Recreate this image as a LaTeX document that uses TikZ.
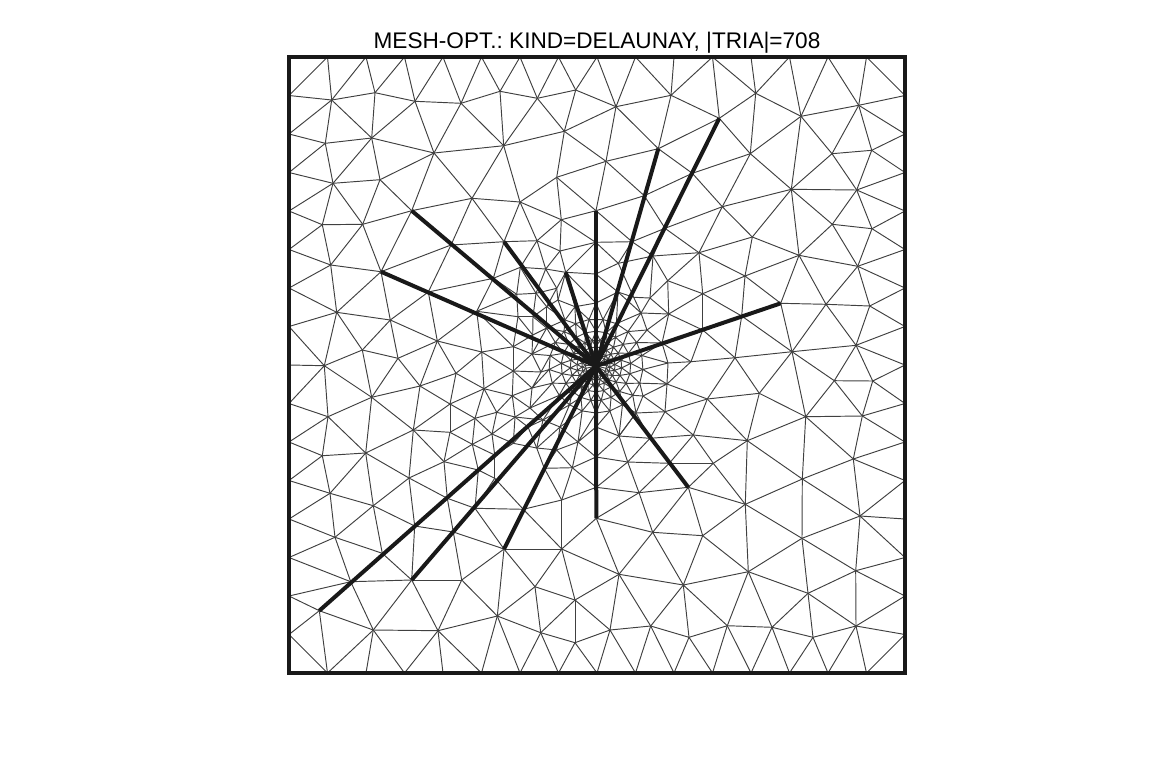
\documentclass[tikz,border=0pt]{standalone}
\usepackage{fontspec}
\setmainfont{Liberation Sans}
\tikzstyle{meshedge}=[line width=0.95pt,draw=black!75]
\tikzstyle{crackedge}=[line width=4pt,draw=black!90]
\tikzstyle{domainbox}=[line width=4pt,draw=black!90]
\tikzstyle{titlebox}=[inner sep=0pt,font=\fontsize{22.6pt}{26pt}\selectfont\frenchspacing]
\begin{document}
\begin{tikzpicture}[x=1pt,y=-1pt]
    \useasboundingbox (0,0) rectangle (1152,756);
    \coordinate (ctr) at (596,366);
    % boundary points
    \foreach \k in {0,...,16}{
        \coordinate (T\k) at ({289+38.5*\k},57);
        \coordinate (B\k) at ({289+38.5*\k},673);
        \coordinate (L\k) at (289,{57+38.5*\k});
        \coordinate (R\k) at (905,{57+38.5*\k});
    }
    % interior points
    \foreach \n/\x/\y in {
        a1/331.7/100,a2/375/92.7,a3/415/101.3,a4/461/103.3,a5/500/91.3,a6/537.3/98.3,a7/575.7/90,
        b1/616/106.7,b2/671/95.3,b3/719.3/118.3,b4/755.7/93.3,b5/801/116.3,b6/858.7/105.3,b7/658.3/148.7,
        c1/325.3/143.3,c2/371.7/138,c3/434/153,c4/503.7/145.7,c5/564.3/131.3,c6/606/161.3,c7/750.3/153.7,c8/832/153.7,c9/871.7/150.3,
        d1/333/183.3,d2/380/179.7,d3/556.7/177.3,d4/472/198.3,d5/520/202,d6/692.3/173.3,d7/644.3/195.7,d8/791.3/189.3,d9/856.7/190,d10/722.3/206.7,
        e1/322.3/224.7,e2/362.7/224.3,e3/411.7/210.7,e4/561.3/219.7,e5/504/241.7,e6/537/240.7,e7/451/245,e8/596/210.7,e9/665/228.3,e10/632/241.7,e11/595.7/242.3,e12/832.3/224.3,e13/872/228.7,e14/752.3/237,e15/699/252.7,
        f1/330.7/265,f2/381/271.7,f3/560/251,f4/520.3/267.3,f5/545.7/269,f6/565.7/272.3,f7/493.3/278.3,f8/595.7/274,f9/428.3/292,f10/799/255.3,f11/857.7/266.3,f12/653/256,f13/667.7/280.7,f14/745/276,f15/702.7/293.7,f16/780.7/303.3,f17/826/304.3,f18/869.7/306,
        g1/336.7/312.3,g2/390.3/320,g3/476.7/311.3,g4/437.3/341,g5/362.3/350,g6/481.7/352,g7/398/358.3,g8/324.3/365.7,g9/513.3/346.7,
        n1/702.7/330,n2/741.7/316,n3/735/357.7,n4/792/351.7,n5/856/345.3,
        j1/668.7/314,j3/691/361.7,w1/618.3/263.3,w3/650/298,w4/556.7/450,w5/536.7/448,w6/494.7/455,w7/513.3/443.3,w8/633.7/297.3,
        u1/536/293.3,u2/556.7/288.3,u3/516.7/294.3,u4/533/316.7,u5/518/316.7,u6/546.7/306.7,u7/558/300,u8/532.7/335,
        v1/512.3/395.7,v2/515/417,x2/528/427,m1/596/457,
        h2/371.7/397.3,h3/420/386,h4/456/373.3,h5/484/388.7,h6/513.3/371,h7/450/404,h8/328/416.7,h9/413.3/430,h10/450/432.3,h11/475/418.3,h12/496.7/412.3,h13/492/434,h14/472.3/444.3,h15/444/461.7,h16/365.7/453,h17/322.3/455.7,h18/409/478,h19/330/493.3,h20/373.3/505.7,h21/447.3/498.3,h22/478.3/470,h23/494.7/478.3,h24/475/508.3,h25/523.3/509.3,h26/544.3/468.3,h27/572.3/467.7,h28/561.7/500,h29/414.7/526,h30/453.3/532,h31/335/537.3,h32/382.3/553.3,h33/504/549,h34/561.7/549,h35/350.7/581.7,h36/411.7/580,h37/461.7/580,h38/535/586.7,h39/575/600,h40/319.3/610.7,h41/373.3/630,h42/438/630.7,h43/497.3/616,h44/540.7/632.7,h45/575/642.7,
        i2/707.3/399,i3/759.3/393.3,i4/665/411.7,i7/805.7/416.7,i8/862.3/416,i9/834.3/380.7,i10/872.7/381,i11/693.3/435,i12/747.3/440.7,i13/853.3/459,i15/650/438.3,i16/627.7/462,i17/669.3/463.3,i18/713.3/463.3,i19/802.3/479,i20/688.3/487.3,i21/639/492.7,i22/745.3/504.3,i23/596.3/487.3,i24/596.3/518.3,i25/860/516,i26/652.7/532.3,i27/702.7/535.7,i28/802/538.3,i29/619/574.3,i30/683.3/585,i31/748.3/571.7,i32/855.7/570.7,i33/808/593.3,i34/610/630,i35/650.7/626,i36/689/637.3,i37/727.3/625.7,i38/772/627.3,i39/813/637.3,i40/856/626,
        O0/596/303,O1/618/292,O2/641/313,O3/647/330,O4/662/343,O5/668/363,O6/667/384,O7/643/396,O8/636/413,O9/619/436,O10/596/427,O11/578/442,O12/560/427,O13/543/420,O14/530/408,O15/532/388,O16/541/372,O17/532/354,O18/546.7/328,O19/565/320,O20/575/306.7}
        \coordinate (\n) at (\x,\y);
    % hand traced edges
    \foreach \p/\q in {
        L1/T1,T1/a1,T2/a1,T2/a2,T3/a2,T3/a3,T4/a3,T4/a4,T5/a4,T5/a5,T6/a5,T6/a6,T7/a6,T7/a7,T8/a7,T8/b1,T9/b1,T9/b2,T10/b2,T11/b2,T11/b3,T11/b4,T12/b4,T13/b4,T13/b5,T14/b5,T14/b6,T15/b6,T15/R1,
        L1/a1,L2/a1,L2/c1,L3/c1,L3/d1,L4/d1,L4/e1,L5/e1,L5/f1,L6/f1,L6/g1,L7/g1,L7/g8,L8/g8,L9/g8,L9/h8,L10/h8,L10/h17,L11/h17,L11/h19,L12/h19,L12/h31,L13/h31,L13/h35,L14/h35,L14/h40,L15/h40,L15/B1,
        a1/a2,a2/a3,a3/a4,a4/a5,a5/a6,a6/a7,a7/b1,b1/b2,b2/b3,b3/b4,b4/b5,b5/b6,R1/b6,R2/b6,R2/c9,R3/c9,R3/d9,R4/d9,R4/e13,R5/e13,R5/f11,R6/f11,R6/f18,R7/f18,R7/n5,R8/n5,R8/i10,R9/i10,R9/i8,R10/i8,R10/i13,R11/i13,R11/i25,R12/i25,R13/i25,R13/i32,R14/i32,R14/i40,R15/i40,R15/B15,
        a1/c1,a1/c2,a2/c2,c2/a3,a3/c3,a4/c3,a4/c4,a5/c4,a6/c4,a6/c5,a7/c5,c5/b1,c1/c2,c1/d1,c2/d1,c2/d2,c2/c3,c3/d2,c3/c4,c3/d4,c3/e3,c4/d4,c4/d5,c4/c5,c5/d3,c5/c6,d3/c6,d3/d5,d3/e4,d3/e8,c6/e8,c6/b1,c6/b7,c6/d7,b7/b1,b2/b7,b7/b3,b3/c7,b4/c7,b5/c7,b5/c8,b6/c8,b6/c9,c8/c9,c9/d9,c8/d9,c8/d8,d8/d9,d8/c7,b5/d8,
        c7/d6,c7/d10,d6/d10,b7/d6,d7/d6,d7/e9,d10/e9,e9/e15,d10/e15,e14/d10,e14/e15,e14/d8,d10/d8,e14/f10,d8/f10,d8/e12,e12/d9,e12/e13,d9/e13,e13/f11,e12/f11,e12/f10,f10/f11,f10/f14,f10/f16,f10/f17,f11/f17,f11/f18,f17/f18,f16/f17,f16/n4,f17/n4,f17/n5,f18/n5,n4/n5,n4/n3,n2/n4,n3/n2,n1/n3,n1/j3,j3/n3,
        e14/f14,f14/f16,f14/n2,f14/f15,f15/e15,f15/n1,f15/n2,e15/f14,e15/f12,e15/f13,f13/f15,f13/j1,f15/j1,j1/n1,j1/O4,j1/O3,j1/O2,j1/w3,f13/w3,f12/w3,f12/f13,e8/e10,d7/e8,e10/e9,e11/e10,e11/w1,f8/w1,w1/e10,w1/f12,e10/f12,e9/f12,w1/w8,w3/w8,w8/O1,w8/O2,f8/O1,f8/O0,w3/O2,
        e5/e6,e6/f3,e6/e4,e5/d5,e5/d4,d4/d5,d5/e6,d5/e4,e4/e8,e4/e11,e4/f3,f3/e11,f3/f6,f3/f5,e6/f5,e6/f4,f4/f5,f5/f6,f6/e11,f6/f8,e5/e7,e7/d4,d4/e3,e3/d2,e3/e2,e3/f2,d2/e2,d2/d1,d1/e2,d1/e1,e1/e2,e1/f1,e2/f1,e2/f2,f1/f2,f1/g1,f2/g1,f2/g2,g1/g2,f2/e7,f9/e7,f9/f7,f7/e5,f7/f4,f7/g3,f9/g2,f9/g4,g2/g4,g3/g4,g4/g6,g3/g6,g3/g9,g6/g9,g4/g7,g2/g7,g2/g5,g5/g7,g1/g5,g1/g8,g8/g5,
        f4/u3,f4/u1,f5/u1,f5/u2,f6/u2,u1/u2,u3/u1,f7/u3,u3/u5,u1/u4,u1/u6,u2/u6,u2/u7,f6/u7,f6/O20,u7/O20,u6/u7,u7/O19,u6/O19,u6/O18,u6/u4,u4/O18,u4/u8,u8/O18,u5/u4,u5/u8,u5/g3,u5/g9,u8/g9,u8/O17,g9/O17,g3/u3,f6/O0,
        g8/h8,g8/h2,g5/h2,g7/h2,g7/h3,g4/h3,g4/h4,g6/h4,g6/h5,g6/h6,g9/h6,h4/h5,h4/h3,h3/h2,h2/h8,h2/h16,h2/h9,h3/h9,h3/h7,h4/h7,h7/h5,h7/h9,h7/h10,h7/h11,h5/h11,h5/h12,h5/h6,h5/v1,h6/v1,v1/h12,h6/O15,h6/O16,h6/O17,v1/O15,v1/O14,v1/v2,v2/O14,v2/O13,v2/x2,x2/w7,x2/O13,h12/v2,h13/v2,h13/h12,h13/w6,h13/w7,v2/w7,w6/w7,w7/w5,x2/w5,w5/O13,w5/O12,w5/w4,w4/O12,w4/O11,
        h15/h14,h15/h10,h10/h14,h10/h11,h11/h14,h11/h13,h11/h12,h9/h10,h9/h15,h9/h18,h9/h16,h16/h18,h15/h18,h15/h21,h18/h21,h21/h24,h22/h24,h14/h22,h15/h22,h14/w6,h14/h13,h23/w6,h22/h23,h22/w6,h23/h24,h23/h25,h24/h25,h24/h33,h21/h30,h18/h29,h18/h20,h16/h20,h16/h19,h16/h17,h8/h17,h8/h16,h17/h19,h19/h31,h19/h20,h20/h31,h20/h29,h20/h32,h31/h32,h31/h35,h29/h30,h30/h33,h29/h36,h30/h37,h36/h37,h36/h32,h35/h36,h37/h33,h33/h34,h33/h38,h34/h38,h34/h39,h38/h39,h34/i29,h39/i29,h39/h45,h39/h44,h38/h44,h38/h43,h33/h43,h37/h43,h37/h42,h36/h42,h36/h41,h35/h41,h41/h42,h42/h43,h43/h44,h44/h45,h45/i34,h39/i34,h40/h41,h40/B1,
        h41/B1,h41/B2,h41/B3,h42/B3,h42/B4,h42/B5,h43/B5,h43/B6,h44/B6,h44/B7,h45/B7,h45/B8,i34/B8,i34/B9,i35/B9,i35/B10,i36/B10,i36/B11,i37/B11,i37/B12,i38/B12,i38/B13,i39/B13,i39/B14,i40/B14,i40/B15,
        h25/h28,h25/h34,h28/h34,h28/h27,h28/i23,h27/i23,h27/m1,h26/h27,h26/h28,h27/O11,m1/O11,m1/O10,w4/h27,w4/h26,w5/h26,h34/i24,i24/i29,i24/i21,i24/i26,i23/i21,i23/i16,m1/i16,O9/m1,O9/i16,O9/O8,O9/i15,O8/i15,O8/i4,O7/i4,O6/i4,O6/i2,O6/j3,O5/j3,O4/j3,
        i16/i21,i16/i17,i16/i15,i17/i21,i15/i4,i4/i2,i4/i11,i15/i11,i11/i17,i11/i18,i11/i2,i11/i12,i2/i3,i2/i12,i2/n3,i3/n3,i3/n4,i3/i7,i3/i12,n4/i7,n4/i9,n5/i9,n5/i10,i9/i10,i9/i7,i9/i8,i10/i8,i7/i8,i8/i13,i7/i13,i7/i12,i7/i19,i12/i18,i18/i17,i18/i20,i18/i22,i12/i22,i12/i19,i19/i22,i19/i13,i19/i25,i13/i25,i19/i28,i22/i28,i25/i28,i22/i31,i28/i31,i28/i32,i25/i32,i32/i33,i28/i33,i31/i33,i31/i38,i31/i37,i33/i38,i33/i39,i33/i40,i32/i40,i40/i39,i38/i39,i37/i38,i36/i37,i35/i36,i34/i35,i35/i30,i36/i30,i37/i30,i31/i30,i31/i27,i27/i22,i20/i27,i27/i26,i27/i30,i26/i30,i26/i29,i29/i30,i29/i35,i29/i34,i20/i22,i20/i26,i20/i21,i21/i26}
        \draw[meshedge] (\p) -- (\q);
    % graded rings round the tip
    \foreach \k in {1,...,6}{
        \foreach \i in {0,...,20}{
            \pgfmathsetmacro{\ang}{-90+(\i+0.5*mod(\k,2))*360/21}
            \pgfmathsetmacro{\rad}{47*0.74^(\k-1)}
            \coordinate (r\k-\i) at ({596+\rad*cos(\ang)},{366+\rad*sin(\ang)});
        }
    }
    \foreach \i in {0,...,20}{
        \pgfmathtruncatemacro{\nxt}{mod(\i+1,21)}
        \pgfmathtruncatemacro{\prv}{mod(\i+20,21)}
        \draw[meshedge] (O\i) -- (O\nxt) (O\i) -- (r1-\i) -- (O\nxt);
        \draw[meshedge] (r6-\i) -- (r6-\nxt) (r6-\i) -- (ctr);
        \foreach \k/\m in {1/2,3/4,5/6}
            \draw[meshedge] (r\k-\i) -- (r\k-\nxt) (r\m-\i) -- (r\k-\i) -- (r\m-\nxt);
        \foreach \k/\m in {2/3,4/5}
            \draw[meshedge] (r\k-\i) -- (r\k-\nxt) (r\m-\i) -- (r\k-\i) -- (r\m-\prv);
    }
    % thick constraints
    \foreach \e in {b3,b7,e8,f16,i20,i24,h33,h36,h40,f2,e3,e5,f6}
        \draw[crackedge] (ctr) -- (\e);
    \draw[domainbox] (T0) rectangle (B16);
    \node[titlebox] (title) at (597,42.5) {MESH-OPT.: KIND=DELAUNAY, |TRIA|=708};
\end{tikzpicture}
\end{document}
